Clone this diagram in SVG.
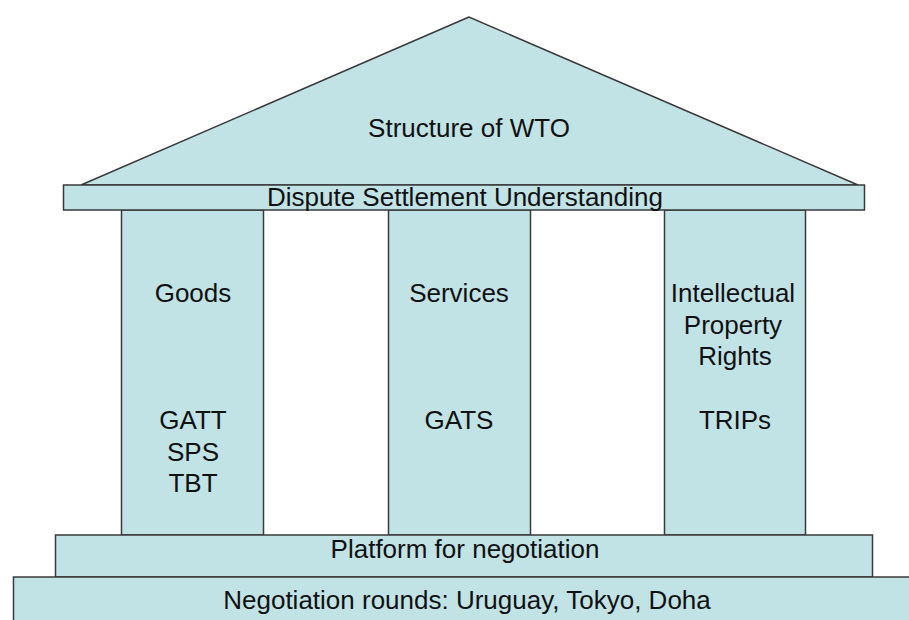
<svg xmlns="http://www.w3.org/2000/svg" width="909" height="620" viewBox="0 0 909 620">
  <style>
    .shape { fill: #c1e3e6; stroke: #3a3a3a; stroke-width: 1.5; }
    .lbl { font-family: "Liberation Sans", Arial, sans-serif; font-size: 26px; fill: #111; text-anchor: middle; }
  </style>
  <rect x="0" y="0" width="909" height="620" fill="#ffffff"/>
  <g id="roof">
    <polygon class="shape" points="469,17 81,185 858,185"/>
    <text class="lbl" x="469" y="137">Structure of WTO</text>
  </g>
  <g id="pillar-goods">
    <rect class="shape" x="121.5" y="210" width="142" height="325"/>
    <text class="lbl" x="193" y="302">Goods</text>
    <text class="lbl" x="193" y="429">GATT</text>
    <text class="lbl" x="193" y="461">SPS</text>
    <text class="lbl" x="193" y="492">TBT</text>
  </g>
  <g id="pillar-services">
    <rect class="shape" x="388.5" y="210" width="142" height="325"/>
    <text class="lbl" x="459" y="302">Services</text>
    <text class="lbl" x="459" y="429">GATS</text>
  </g>
  <g id="pillar-trips">
    <rect class="shape" x="664.5" y="210" width="141" height="325"/>
    <text class="lbl" x="733" y="302">Intellectual</text>
    <text class="lbl" x="733" y="334">Property</text>
    <text class="lbl" x="735" y="365">Rights</text>
    <text class="lbl" x="735" y="429">TRIPs</text>
  </g>
  <g id="dsu">
    <rect class="shape" x="63.5" y="185" width="801" height="25"/>
    <text class="lbl" x="465" y="206">Dispute Settlement Understanding</text>
  </g>
  <g id="platform">
    <rect class="shape" x="55.5" y="535" width="817" height="42"/>
    <text class="lbl" x="465" y="558">Platform for negotiation</text>
  </g>
  <g id="rounds">
    <rect class="shape" x="13.5" y="577" width="920" height="50"/>
    <text class="lbl" x="467" y="609">Negotiation rounds: Uruguay, Tokyo, Doha</text>
  </g>
</svg>
